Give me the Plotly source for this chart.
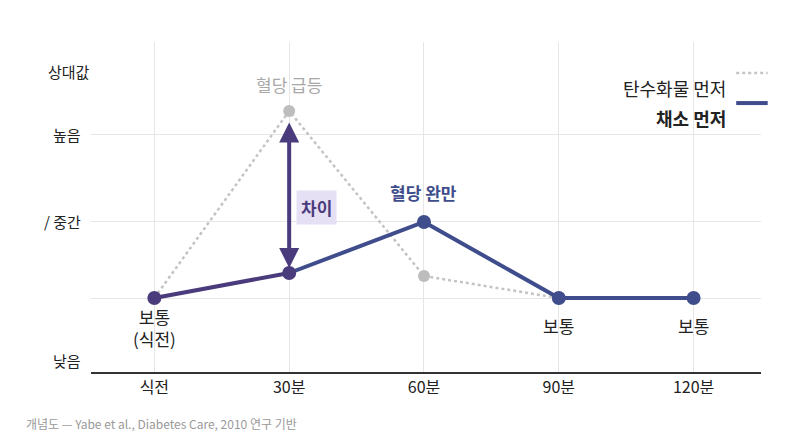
import plotly.graph_objects as go

categories = ["식전", "30분", "60분", "90분", "120분"]
carb_first = [0.74, 2.61, 0.96, 0.74, None]
veg_first = [0.74, 0.99, 1.50, 0.74, 0.74]
ytick_vals = [2.38, 1.51, 0.74, 0.0]
ytick_text = ["높음", "/ 중간", "", "낮음"]

F = "Noto Sans CJK KR"
xs = list(range(len(categories)))
fig = go.Figure()
fig.add_trace(go.Scatter(x=xs[:4], y=carb_first[:4], mode="lines+markers",
    line=dict(color="#c4c4c4", width=2.5, dash="dot"),
    marker=dict(color="#bdbdbd", size=12), showlegend=False))
fig.add_trace(go.Scatter(x=xs[:2], y=veg_first[:2], mode="lines",
    line=dict(color="#4a3c7c", width=4), showlegend=False))
fig.add_trace(go.Scatter(x=xs[1:], y=veg_first[1:], mode="lines",
    line=dict(color="#3f4d8c", width=4), showlegend=False))
fig.add_trace(go.Scatter(x=xs, y=veg_first, mode="markers",
    marker=dict(color=["#4a3c7c", "#4a3c7c", "#3f4d8c", "#3f4d8c", "#3f4d8c"], size=14),
    showlegend=False))

ann = []
ann.append(dict(x=1, y=veg_first[1] + 0.05, ax=1, ay=carb_first[1] - 0.1, xref="x", yref="y",
    axref="x", ayref="y", showarrow=True, arrowhead=2, arrowside="end+start",
    arrowsize=1, arrowwidth=4, arrowcolor="#4a3c7c", text=""))
ann.append(dict(x=1.2, y=1.65, text="<b>차이</b>", showarrow=False, bgcolor="#e6e0f5",
    font=dict(family=F, size=17, color="#4a3c7c"), borderpad=4))
ann.append(dict(x=1, y=carb_first[1] + 0.27, text="혈당 급등", showarrow=False,
    font=dict(family=F, size=17, color="#a8a8a8")))
ann.append(dict(x=2, y=veg_first[2] + 0.3, text="<b>혈당 완만</b>", showarrow=False,
    font=dict(family=F, size=17, color="#3f4d8c")))
ann.append(dict(x=0, y=0.45, text="보통<br>(식전)", showarrow=False,
    font=dict(family=F, size=17, color="#222")))
for i in (3, 4):
    ann.append(dict(x=i, y=0.47, text="보통", showarrow=False,
        font=dict(family=F, size=17, color="#222")))
for v, t in zip(ytick_vals, ytick_text):
    if t:
        ann.append(dict(x=0, xref="paper", y=v + (0.12 if v == 0 else 0), xanchor="right",
            xshift=-8, text=t, showarrow=False, font=dict(family=F, size=15, color="#222")))
ann.append(dict(x=0, xref="paper", y=0.95, yref="paper", text="상대값",
    showarrow=False, xanchor="left", xshift=-45, font=dict(family=F, size=15, color="#222")))
ann.append(dict(x=0.951, xref="paper", y=0.906, yref="paper", text="탄수화물 먼저",
    showarrow=False, xanchor="right", font=dict(family=F, size=18, color="#222")))
ann.append(dict(x=0.951, xref="paper", y=0.815, yref="paper", text="<b>채소 먼저</b>",
    showarrow=False, xanchor="right", font=dict(family=F, size=18, color="#222")))
ann.append(dict(x=0, xref="paper", xshift=-67, y=0, yref="paper", yshift=-62, xanchor="left",
    text="개념도 — Yabe et al., Diabetes Care, 2010 연구 기반", showarrow=False,
    font=dict(family=F, size=12, color="#999")))

shapes = [
    dict(type="line", xref="paper", yref="paper", x0=0.963, x1=1.01, y0=0.906, y1=0.906,
         line=dict(color="#c4c4c4", width=2.5, dash="dot")),
    dict(type="line", xref="paper", yref="paper", x0=0.963, x1=1.01, y0=0.815, y1=0.815,
         line=dict(color="#3f4d8c", width=4)),
]

fig.update_layout(
    width=800, height=446, margin=dict(l=83, r=47, t=34, b=82),
    plot_bgcolor="white", paper_bgcolor="white", annotations=ann, shapes=shapes,
    xaxis=dict(range=[-0.47, 4.5], tickvals=xs, ticktext=categories, showline=True,
        linecolor="#333", linewidth=1.5, showgrid=True, gridcolor="#e6e6e6",
        tickfont=dict(family=F, size=16, color="#222"), ticks="", zeroline=False),
    yaxis=dict(range=[0, 3.3], tickvals=[2.38, 1.51, 0.74], showticklabels=False,
        showgrid=True, gridcolor="#e6e6e6", zeroline=False),
)
fig.write_html("out.html")
